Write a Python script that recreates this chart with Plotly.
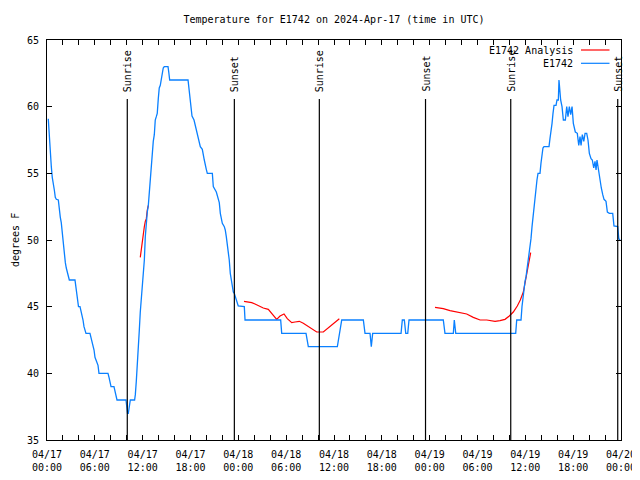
import plotly.graph_objects as go

# ---- data (hours since 2024-04-17 00:00 UTC, degrees F) ----
obs_hours = [0.16, 0.29, 0.41, 0.54, 0.66, 0.79, 0.92, 1.04, 1.17, 1.42, 1.54, 1.67, 1.79, 1.92, 2.04,
             2.17, 2.30, 2.42, 2.55, 2.67, 2.80, 3.51, 3.60, 3.72, 3.85, 3.95, 4.14, 4.26, 4.39, 4.52,
             4.64, 4.77, 4.89, 5.39, 5.52, 5.64, 5.77, 5.90, 6.02, 6.15, 6.27, 6.40, 6.52, 7.65, 7.78,
             7.90, 8.03, 8.40, 8.53, 8.66, 8.78, 9.91, 10.10, 10.20, 10.33, 10.45, 10.99,
             11.08, 11.20, 11.33, 11.45, 11.58, 11.70, 11.83, 11.95, 12.08, 12.21, 12.33, 12.46, 12.58,
             12.71, 12.83, 12.96, 13.08, 13.21, 13.33, 13.46, 13.58, 13.71, 13.83, 13.96, 14.08, 14.21,
             14.33, 14.46, 14.58, 14.71, 15.18, 15.27, 15.39, 17.69, 17.81, 17.94, 18.06, 18.19, 18.44,
             18.69, 18.85, 19.10, 19.23, 19.48, 19.61, 19.73, 19.98, 20.11, 20.74, 20.86, 21.24, 21.36,
             21.49, 21.61, 21.74, 21.86, 21.99, 22.24, 22.36, 22.49, 22.61, 22.74, 22.86, 22.99, 23.11,
             23.24, 23.37, 23.49, 23.62, 23.74, 23.87, 23.99, 24.75, 24.84, 29.31, 29.44, 32.49, 32.78,
             36.42, 36.54, 36.75, 36.97, 37.17, 39.68, 39.89, 40.52, 40.68, 40.85, 44.41, 44.57, 44.82,
             45.00, 45.25, 45.41, 49.71, 49.92, 50.97, 51.09, 51.27, 58.79, 58.92, 59.46, 59.58, 59.71,
             59.84, 59.96, 60.09, 60.21, 60.34, 60.46, 60.59, 60.71, 60.84, 60.96, 61.09, 61.21, 61.34,
             61.46, 61.59, 61.84, 61.96, 62.09, 62.21, 62.34, 62.97, 63.09, 63.22, 63.35, 63.47, 63.60,
             63.85, 63.97, 64.14, 64.22, 64.43, 64.60, 64.77, 65.02, 65.19, 65.35, 65.52, 65.69, 65.86,
             66.02, 66.27, 66.52, 66.70, 66.86, 66.99, 67.15, 67.33, 67.49, 67.70, 67.86, 68.03, 68.24,
             68.40, 68.58, 68.74, 68.87, 68.99, 69.15, 69.37, 69.53, 69.71, 69.87, 70.12, 70.29, 70.54,
             70.96, 71.12, 71.59, 71.72, 71.88]
obs_temps = [59.1, 57.5, 56.5, 55.5, 54.7, 54.3, 53.75, 53.2, 53.05, 53.0, 52.25, 51.7, 51.3, 50.5, 49.5,
             48.7, 48.3, 47.9, 47.6, 47.2, 47.0, 47.0, 46.6, 45.7, 45.3, 45.0, 45.0, 44.7, 44.2, 44.0,
             43.5, 43.25, 43.0, 43.0, 42.7, 42.3, 42.0, 41.75, 41.2, 41.0, 40.8, 40.6, 40.0, 40.0, 39.7,
             39.3, 39.0, 39.0, 38.6, 38.2, 38.0, 38.0, 37.0, 37.0, 37.6, 38.0, 38.0,
             38.4, 39.4, 40.5, 41.75, 43.25, 44.6, 45.5, 46.6, 47.6, 48.5, 50.25, 51.4, 52.1,
             52.6, 53.6, 54.5, 55.6, 56.6, 57.4, 57.9, 59.0, 59.25, 59.5, 60.6, 61.4, 61.6,
             62.1, 62.5, 62.9, 63.0, 63.0, 62.6, 62.0, 62.0, 61.4, 60.6, 59.9, 59.3, 59.0,
             58.4, 58.0, 57.3, 57.0, 56.8, 56.3, 56.0, 55.3, 55.0, 55.0, 54.0, 53.6, 53.25,
             53.0, 52.8, 52.0, 51.5, 51.25, 51.0, 50.75, 50.25, 49.75, 49.0, 48.5, 47.5, 47.0,
             46.75, 46.1, 46.0, 45.75, 45.65, 45.4, 45.05, 45.0, 44.0, 44.0, 43.0, 43.0, 42.0,
             42.0, 42.5, 43.0, 44.0, 44.0, 44.0, 43.0, 43.0, 42.0, 43.0, 43.0, 44.0, 44.0,
             43.0, 43.0, 44.0, 44.0, 43.0, 43.0, 44.0, 43.0, 43.0, 44.0, 44.0, 45.0, 45.75,
             46.25, 46.9, 47.25, 47.75, 48.25, 48.9, 49.4, 50.1, 51.0, 51.75, 52.5, 53.25, 53.9,
             54.5, 55.0, 55.0, 55.75, 56.25, 56.9, 57.0, 57.0, 57.6, 58.1, 58.75, 59.5, 60.1,
             60.1, 60.5, 60.5, 62.0, 60.5, 60.0, 59.0, 59.0, 60.0, 59.25, 60.0, 59.4, 60.0,
             58.75, 58.1, 58.0, 57.1, 57.75, 57.1, 57.9, 57.4, 58.0, 58.0, 57.5, 56.5, 56.1,
             56.0, 55.4, 55.9, 55.25, 56.0, 55.25, 54.4, 53.9, 53.4, 53.05, 52.9, 52.1, 52.0,
             52.0, 51.05, 51.0, 50.1, 50.0]

ana1_hours = [11.70, 11.83, 11.95, 12.08, 12.21, 12.33, 12.46, 12.58, 12.71]
ana1_temps = [48.7, 49.4, 49.9, 50.4, 51.0, 51.4, 51.6, 52.25, 52.6]
ana2_hours = [24.71, 25.68, 26.09, 26.72, 27.13, 27.76, 28.06, 28.48, 28.81, 29.23, 29.73, 30.14,
              30.70, 31.11, 31.65, 32.15, 32.78, 33.40, 33.83, 34.66, 35.29, 35.91, 36.67]
ana2_temps = [45.4, 45.3, 45.2, 45.0, 44.9, 44.8, 44.6, 44.3, 44.05, 44.3, 44.45, 44.1,
              43.8, 43.85, 43.9, 43.75, 43.5, 43.25, 43.1, 43.1, 43.4, 43.75, 44.1]
ana3_hours = [48.67, 49.71, 50.55, 51.39, 52.02, 52.65, 53.47, 54.32, 55.16, 56.20, 56.82, 57.45,
              57.99, 58.49, 58.99, 59.37, 59.75, 59.96, 60.17, 60.37, 60.59, 60.67]
ana3_temps = [44.95, 44.85, 44.7, 44.6, 44.55, 44.45, 44.2, 44.0, 44.0, 43.9, 43.95, 44.05,
              44.3, 44.6, 45.05, 45.5, 46.1, 46.75, 47.4, 48.0, 48.75, 49.05]

sun_hours = [10.07, 23.50, 34.16, 47.48, 58.17, 71.59]
sun_labels = ["Sunrise", "Sunset", "Sunrise", "Sunset", "Sunrise", "Sunset"]

tick_hours = [0, 6, 12, 18, 24, 30, 36, 42, 48, 54, 60, 66, 72]
tick_labels = ["04/17<br>00:00", "04/17<br>06:00", "04/17<br>12:00", "04/17<br>18:00",
               "04/18<br>00:00", "04/18<br>06:00", "04/18<br>12:00", "04/18<br>18:00",
               "04/19<br>00:00", "04/19<br>06:00", "04/19<br>12:00", "04/19<br>18:00",
               "04/20<br>00:00"]
y_ticks = [35, 40, 45, 50, 55, 60, 65]

title_text = "Temperature for E1742 on 2024-Apr-17 (time in UTC)"
y_title = "degrees F"
series_names = ["E1742 Analysis", "E1742"]

BLUE = "#0a80ff"
RED = "#ff0000"
FONT = "DejaVu Sans Mono"

# page body has an 8px default margin; figure is sized so the plot lands at 47..621 x 40..440
W, H = 632, 472
OFF = 8

fig = go.Figure()
for hs, ts in [(ana1_hours, ana1_temps), (ana2_hours, ana2_temps), (ana3_hours, ana3_temps)]:
    fig.add_trace(go.Scatter(x=hs, y=ts, mode="lines", line=dict(color=RED, width=1.2),
                             showlegend=False, hoverinfo="skip"))
fig.add_trace(go.Scatter(x=obs_hours, y=obs_temps, mode="lines", line=dict(color=BLUE, width=1.3),
                         showlegend=False, hoverinfo="skip"))

shapes = []
annotations = []
for h, lab in zip(sun_hours, sun_labels):
    shapes.append(dict(type="line", xref="x", yref="paper", x0=h, x1=h, y0=0, y1=0.8525,
                       line=dict(color="black", width=1.2)))
    annotations.append(dict(x=h, xref="x", y=0.865, yref="paper", text=lab, showarrow=False,
                            textangle=-90, xanchor="center", yanchor="bottom",
                            font=dict(family=FONT, size=10, color="black")))

# legend (top right, text right-aligned, sample to the right)
for i, (name, col) in enumerate(zip(series_names, [RED, BLUE])):
    ypix = 50 + i * 13.3
    yp = (440 - ypix) / 400
    annotations.append(dict(x=(575 - 47) / 574, xref="paper", y=yp, yref="paper", text=name,
                            showarrow=False, xanchor="right", yanchor="middle",
                            font=dict(family=FONT, size=10, color="black")))
    shapes.append(dict(type="line", xref="paper", yref="paper", x0=(581 - 47) / 574,
                       x1=(609.5 - 47) / 574, y0=yp, y1=yp, line=dict(color=col, width=1.2)))

annotations.append(dict(x=(15 - 47) / 574, xref="paper", y=0.5, yref="paper", text=y_title,
                        showarrow=False, textangle=-90, xanchor="center", yanchor="middle",
                        font=dict(family=FONT, size=10, color="black")))

fig.update_layout(
    width=W, height=H,
    margin=dict(l=47 - OFF, r=19, t=40 - OFF, b=40),
    paper_bgcolor="white", plot_bgcolor="white",
    title=dict(text=title_text, x=(334 - OFF) / W, xanchor="center", y=1 - (19 - OFF) / H,
               yanchor="middle", font=dict(family=FONT, size=10, color="black")),
    shapes=shapes, annotations=annotations, showlegend=False,
    xaxis=dict(range=[0, 72], tickmode="array", tickvals=tick_hours, ticktext=tick_labels,
               ticks="inside", ticklen=5, tickcolor="black", showline=True, linecolor="black",
               linewidth=1, mirror="allticks", showgrid=False, zeroline=False, automargin=False,
               ticklabelstandoff=5,
               tickfont=dict(family=FONT, size=10, color="black"),
               minor=dict(ticks="inside", ticklen=5, tickcolor="black", dtick=2, tick0=0,
                          showgrid=False)),
    yaxis=dict(range=[35, 65], tickmode="array", tickvals=y_ticks,
               ticks="inside", ticklen=5, tickcolor="black", showline=True, linecolor="black",
               linewidth=1, mirror="allticks", showgrid=False, zeroline=False, automargin=False,
               ticklabelstandoff=5,
               tickfont=dict(family=FONT, size=10, color="black")),
)

fig.write_html("out.html")
